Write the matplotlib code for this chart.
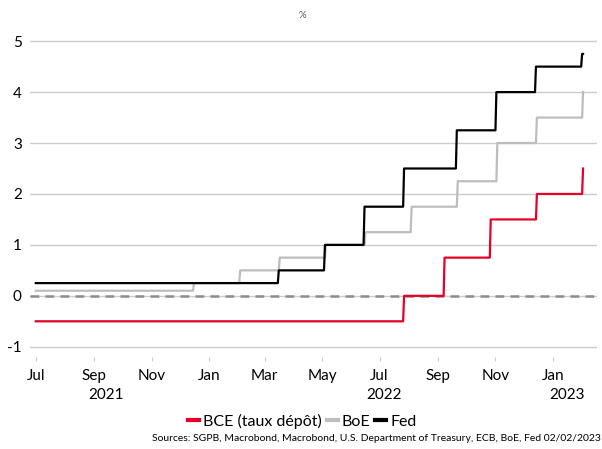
import numpy as np
import pandas as pd
import matplotlib
matplotlib.use("Agg")
import matplotlib.pyplot as plt
import matplotlib.dates as mdates
import matplotlib.transforms as mtransforms

plt.rcParams['font.family'] = ['Lato', 'DejaVu Sans']
plt.rcParams['axes.unicode_minus'] = False

# Policy rate changes and levels, %
start = "2021-07-01"
end = "2023-02-02"

bce_dates = [start, "2022-07-27", "2022-09-08", "2022-10-27", "2022-12-15", "2023-02-02"]
bce_rates = [-0.5, 0.0, 0.75, 1.5, 2.0, 2.5]

boe_dates = [start, "2021-12-16", "2022-02-03", "2022-03-17", "2022-05-05", "2022-06-16",
             "2022-08-04", "2022-09-22", "2022-11-03", "2022-12-15", "2023-02-02"]
boe_rates = [0.1, 0.25, 0.5, 0.75, 1.0, 1.25, 1.75, 2.25, 3.0, 3.5, 4.0]

fed_dates = [start, "2022-03-16", "2022-05-04", "2022-06-15", "2022-07-27", "2022-09-21",
             "2022-11-02", "2022-12-14", "2023-02-01"]
fed_rates = [0.25, 0.5, 1.0, 1.75, 2.5, 3.25, 4.0, 4.5, 4.75]

days = pd.date_range(start, end, freq="D")


def daily(dates, rates):
    s = pd.Series(rates, index=pd.to_datetime(dates))
    return s.reindex(days).ffill()


bce = daily(bce_dates, bce_rates)
boe = daily(boe_dates, boe_rates)
fed = daily(fed_dates, fed_rates)

fig = plt.figure(figsize=(6.02, 4.49), dpi=100)
ax = fig.add_axes([0.05, 0.205, 0.942, 0.726])

ax.plot(days, bce, color="#e60028", lw=1.6, label="BCE (taux dépôt)")
ax.plot(days, boe, color="#bdbdbd", lw=1.6, label="BoE")
ax.plot(days, fed, color="#000000", lw=1.6, label="Fed")
ax.axhline(0, color="#8c8c8c", lw=1.8, ls=(0, (3.5, 2.5)), zorder=1)

ax.set_ylim(-1.2, 5.2)
ax.set_yticks(range(-1, 6))
ax.set_xlim(pd.Timestamp("2021-06-25"), pd.Timestamp("2023-02-17"))
ax.grid(axis="y", color="#cccccc", lw=1)
ax.set_axisbelow(True)
for sp in ax.spines.values():
    sp.set_visible(False)

ax.xaxis.set_major_locator(mdates.MonthLocator(bymonth=[1, 3, 5, 7, 9, 11]))
ax.xaxis.set_major_formatter(mdates.DateFormatter("%b"))
ax.tick_params(axis="x", length=3, color="#cccccc", labelsize=11, pad=6)
ax.tick_params(axis="y", length=0, labelsize=11, pad=6)

trans = mtransforms.blended_transform_factory(ax.transData, ax.transAxes)
for yr, d in [("2021", "2021-09-14"), ("2022", "2022-07-06"), ("2023", "2023-01-16")]:
    ax.text(mdates.date2num(pd.Timestamp(d)), -0.095, yr, transform=trans,
            ha="center", va="top", fontsize=11)

fig.text(0.502, 0.965, "%", ha="center", va="center", fontsize=7, color="#555555")

leg = fig.legend(loc="center", bbox_to_anchor=(0.502, 0.062), ncol=3, frameon=False,
                 fontsize=11.5, handlelength=0.7, handletextpad=0.25, columnspacing=0.3)
for h in leg.get_lines():
    h.set_linewidth(3)

fig.text(0.998, 0.013, "Sources: SGPB, Macrobond, Macrobond, U.S. Department of Treasury, ECB, BoE, Fed 02/02/2023",
         ha="right", va="bottom", fontsize=7.5)

fig.savefig("out.png", dpi=100)
